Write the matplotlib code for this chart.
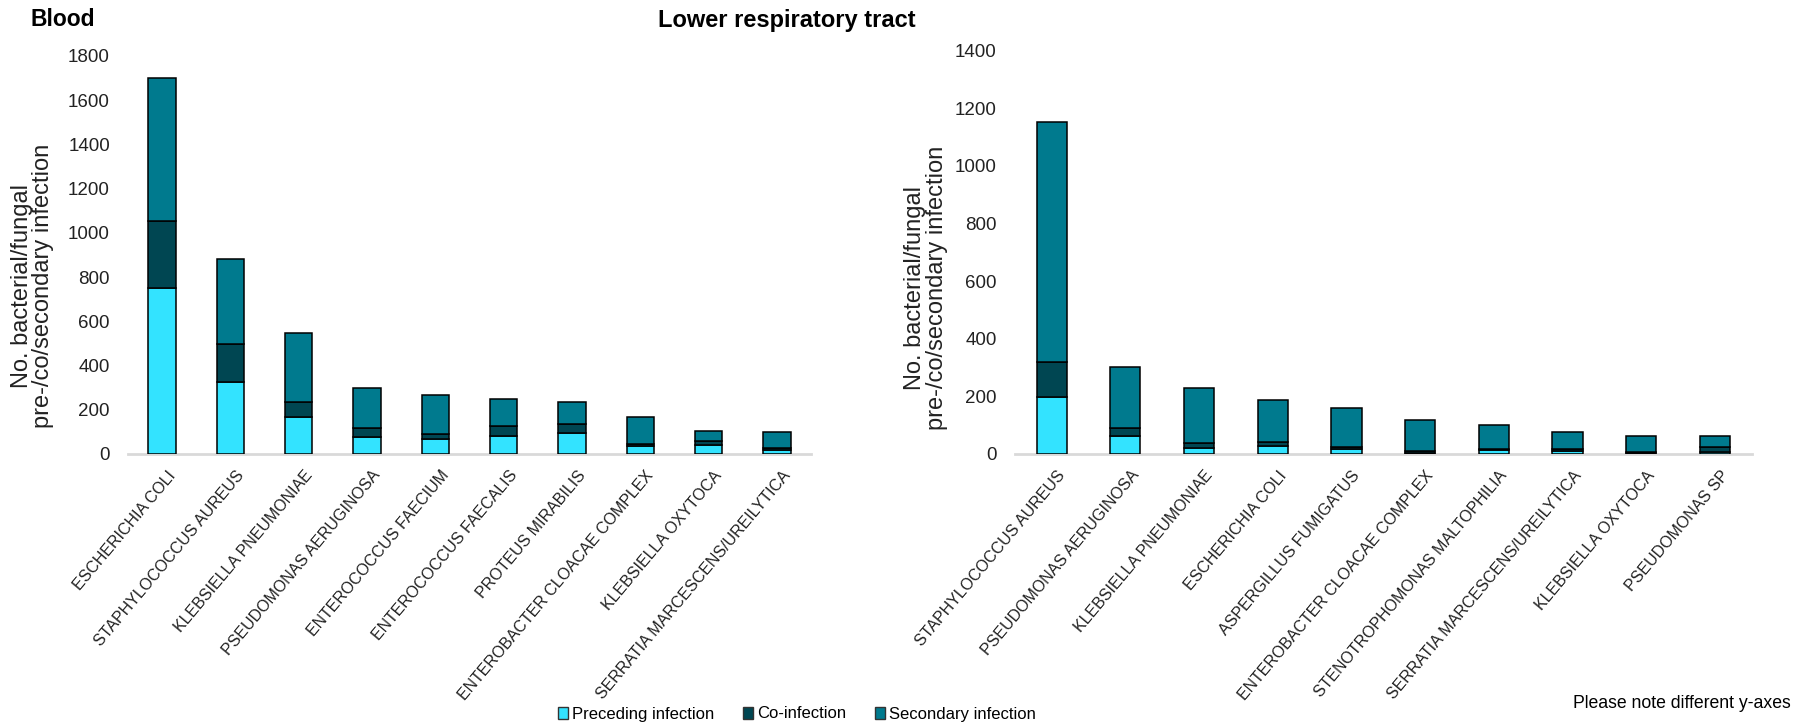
import matplotlib
matplotlib.use("Agg")
import matplotlib.pyplot as plt
import matplotlib.transforms as mtransforms
from matplotlib.patches import Patch

REG = "Liberation Sans"

blood_categories = ["ESCHERICHIA COLI", "STAPHYLOCOCCUS AUREUS", "KLEBSIELLA PNEUMONIAE",
                    "PSEUDOMONAS AERUGINOSA", "ENTEROCOCCUS FAECIUM", "ENTEROCOCCUS FAECALIS",
                    "PROTEUS MIRABILIS", "ENTEROBACTER CLOACAE COMPLEX", "KLEBSIELLA OXYTOCA",
                    "SERRATIA MARCESCENS/UREILYTICA"]
blood_pre = [752, 327, 168, 75, 67, 82, 95, 35, 42, 18]
blood_co = [303, 169, 69, 41, 25, 46, 40, 8, 16, 9]
blood_sec = [645, 384, 310, 181, 174, 122, 100, 124, 47, 71]

resp_categories = ["STAPHYLOCOCCUS AUREUS", "PSEUDOMONAS AERUGINOSA", "KLEBSIELLA PNEUMONIAE",
                   "ESCHERICHIA COLI", "ASPERGILLUS FUMIGATUS", "ENTEROBACTER CLOACAE COMPLEX",
                   "STENOTROPHOMONAS MALTOPHILIA", "SERRATIA MARCESCENS/UREILYTICA",
                   "KLEBSIELLA OXYTOCA", "PSEUDOMONAS SP"]
resp_pre = [197, 64, 20, 29, 17, 3, 13, 12, 5, 8]
resp_co = [123, 25, 17, 14, 8, 8, 3, 4, 3, 15]
resp_sec = [833, 214, 191, 144, 134, 107, 83, 59, 56, 41]

series_names = ["Preceding infection", "Co-infection", "Secondary infection"]
colors = ["#33E3FF", "#004652", "#007A8E"]

W, H = 1810, 727
fig = plt.figure(figsize=(W / 100, H / 100), dpi=100)


def px_axes(x0, x1, ytop, ybot):
    return fig.add_axes([x0 / W, 1 - ybot / H, (x1 - x0) / W, (ybot - ytop) / H])


def draw(ax, cats, pre, co, sec, ymax, width):
    x = list(range(len(cats)))
    b1 = [p for p in pre]
    b2 = [p + c for p, c in zip(pre, co)]
    ax.bar(x, pre, width, color=colors[0], edgecolor="black", linewidth=1.1, zorder=3)
    ax.bar(x, co, width, bottom=b1, color=colors[1], edgecolor="black", linewidth=1.1, zorder=3)
    ax.bar(x, sec, width, bottom=b2, color=colors[2], edgecolor="black", linewidth=1.1, zorder=3)
    ax.set_xlim(-0.5, len(cats) - 0.5)
    ax.set_ylim(0, ymax)
    ax.set_yticks(range(0, ymax + 1, 200))
    ax.set_yticklabels([str(v) for v in range(0, ymax + 1, 200)], fontfamily=REG, fontsize=13.5, color="#222222")
    for s in ["top", "right", "left"]:
        ax.spines[s].set_visible(False)
    ax.spines["bottom"].set_color("#D9D9D9")
    ax.spines["bottom"].set_linewidth(2)
    ax.spines["bottom"].set_zorder(1)
    ax.tick_params(axis="y", length=0, pad=13)
    ax.tick_params(axis="x", length=0, pad=10)
    ax.set_xticks(x)
    ax.set_xticklabels(cats, rotation=50, ha="right", va="top", rotation_mode="anchor",
                       fontfamily=REG, fontsize=11.5, color="#222222")
    off = mtransforms.ScaledTranslation(5 / 100, 0, fig.dpi_scale_trans)
    for lab in ax.get_xticklabels():
        lab.set_transform(lab.get_transform() + off)
    ax.patch.set_alpha(0)


ax1 = px_axes(128, 811, 56, 454)
draw(ax1, blood_categories, blood_pre, blood_co, blood_sec, 1800, 0.40)
ax2 = px_axes(1014.8, 1751.8, 50.7, 454)
draw(ax2, resp_categories, resp_pre, resp_co, resp_sec, 1400, 0.41)

ylab = "No. bacterial/fungal\npre-/co/secondary infection"
fig.text(32.5 / W, 1 - 286 / H, ylab, rotation=90, ha="center", va="center",
         fontfamily=REG, fontsize=17, linespacing=0.95, color="#222222")
fig.text(926 / W, 1 - 288 / H, ylab, rotation=90, ha="center", va="center",
         fontfamily=REG, fontsize=17, linespacing=0.95, color="#222222")

fig.text(30 / W, 1 - 20 / H, "Blood", ha="left", va="center", fontfamily=REG,
         fontsize=16.5, fontweight="bold", color="black")
fig.text(658 / W, 1 - 21 / H, "Lower respiratory tract", ha="left", va="center", fontfamily=REG,
         fontsize=17, fontweight="bold", color="black")

handles = [Patch(facecolor=c, edgecolor="#333333", linewidth=1) for c in colors]
fig.legend(handles, series_names, loc="center", bbox_to_anchor=(797 / W, 1 - 714 / H), ncol=3,
           frameon=False, handlelength=0.6, handleheight=0.7, handletextpad=0.25,
           columnspacing=1.7, prop={"family": REG, "size": 12})

fig.text(1573 / W, 1 - 703 / H, "Please note different y-axes", ha="left", va="center",
         fontfamily=REG, fontsize=12.7, color="black")

fig.savefig("out.png", dpi=100, facecolor="white")
